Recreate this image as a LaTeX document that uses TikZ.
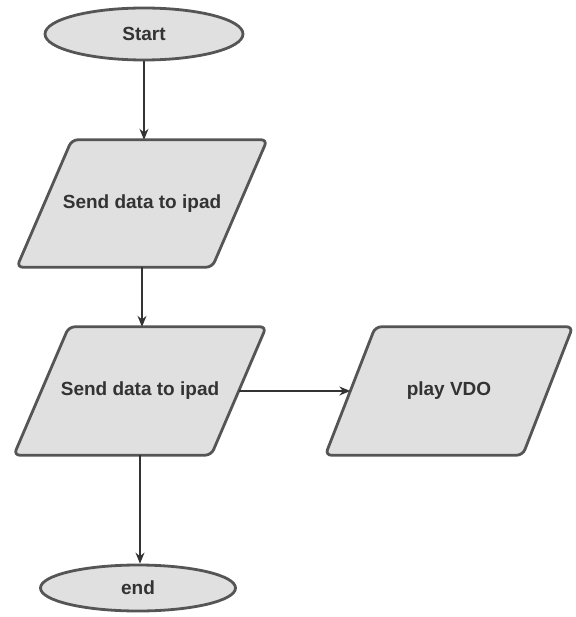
\documentclass[tikz,border=0pt]{standalone}
\usepackage{fontspec}
\setmainfont{Liberation Sans}
\usetikzlibrary{shapes.geometric,arrows.meta,backgrounds}
\definecolor{edge}{HTML}{555555}
\definecolor{shapefill}{HTML}{E0E0E0}
\definecolor{arrowc}{HTML}{333333}
\tikzset{
  labelfont/.style={font=\fontsize{19}{22}\selectfont\bfseries, text=black!80},
  termbox/.style={ellipse, draw=edge, line width=2.8pt, fill=shapefill,
    inner sep=0pt, labelfont},
  iobody/.style={rectangle, inner sep=0pt, minimum height=127pt, labelfont},
  ioshape/.style={draw=edge, line width=2.8pt, fill=shapefill, rounded corners=6pt},
  flow/.style={draw=arrowc, line width=1.4pt, -{Stealth[length=11pt,width=9pt]}}
}
\newcommand{\ioparallel}[2]{%
  \begin{pgfonlayer}{background}
  \path[ioshape] ([xshift=#2]#1.north west) -- ([xshift=#2]#1.north east)
    -- ([xshift=-#2]#1.south east) -- ([xshift=-#2]#1.south west) -- cycle;
  \end{pgfonlayer}}
\begin{document}
\begin{tikzpicture}[x=1pt,y=-1pt]
\useasboundingbox (0,0) rectangle (575,617);
\node[termbox, minimum width=198pt, minimum height=52pt] (start) at (144,34) {Start};
\node[iobody, minimum width=195pt] (p1) at (142,203.5) {Send data to ipad};
\node[iobody, minimum width=197pt, minimum height=128pt] (p2) at (140,391) {Send data to ipad};
\node[iobody, minimum width=197pt, minimum height=128pt] (p3) at (449,391) {play VDO};
\node[termbox, minimum width=195pt, minimum height=46pt] (end) at (138,588) {end};
\ioparallel{p1}{27.5pt}
\ioparallel{p2}{27.5pt}
\ioparallel{p3}{25pt}
\draw[flow] (start.south) -- (start.south |- p1.north);
\draw[flow] (p1.south) -- (p1.south |- p2.north);
\draw[flow] (p2.east) -- (p3.west);
\draw[flow] (p2.south) -- (p2.south |- end.north);
\end{tikzpicture}
\end{document}
